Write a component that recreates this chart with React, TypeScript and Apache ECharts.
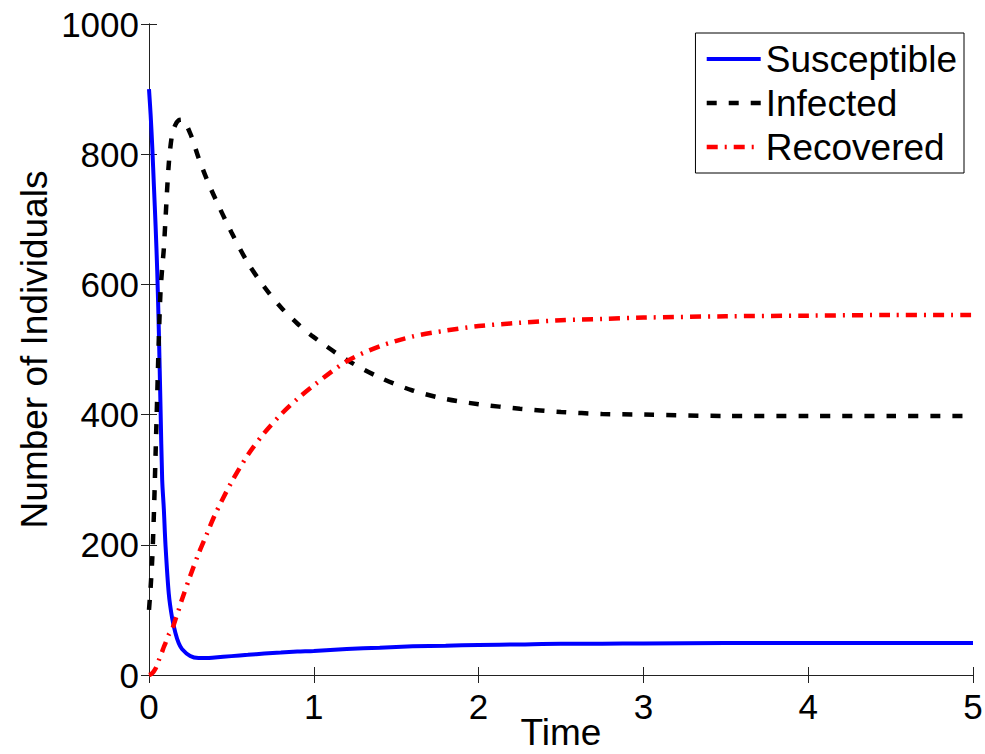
import React, { useEffect, useRef } from "react";
import * as echarts from "echarts";

const times = [0, 0.01, 0.02, 0.03, 0.04, 0.05, 0.06, 0.07, 0.08, 0.09, 0.1, 0.12, 0.14, 0.16, 0.18, 0.2, 0.25, 0.3, 0.35, 0.4, 0.5, 0.6, 0.7, 0.8, 0.9, 1.0, 1.2, 1.4, 1.6, 1.8, 2.0, 2.25, 2.5, 2.75, 3.0, 3.5, 4.0, 4.5, 5.0];
const susceptible = [900, 860, 810, 750, 690, 620, 525, 410, 300, 255, 200, 125, 88, 65, 49, 40, 29, 26, 26, 27, 29, 31, 33, 34.5, 36, 37, 40, 42, 44, 45, 46, 47, 48, 48, 48.5, 49, 49, 49, 49];
const infected = [100, 135, 180, 250, 340, 430, 520, 590, 625, 655, 700, 785, 830, 845, 852, 853, 832, 795, 762, 733, 680, 633, 596, 565, 540, 519, 484, 457, 437, 424, 416, 409, 404, 401, 400, 398, 398, 398, 398];
const recovered = [0, 1, 3, 6, 10, 16, 23, 30, 36, 43, 49, 62, 70, 85, 100, 116, 152, 186, 216, 246, 296, 338, 372, 400, 424, 445, 482, 505, 520, 529, 536, 541, 545, 547, 549, 551, 552, 553, 553];
const seriesNames = ["Susceptible", "Infected", "Recovered"];
const xTicks = { min: 0, max: 5, interval: 1 };
const yTicks = { min: 0, max: 1000, interval: 200 };

const FONT = "Liberation Sans, Arial, Helvetica, sans-serif";

const colors = ["#0000ff", "#000000", "#ff0000"];
const widths = [4, 4.5, 4.5];
const dashes: any[] = ["solid", [10, 12], [11, 7, 2, 7]];

export default function App() {
  const ref = useRef<HTMLDivElement>(null);
  useEffect(() => {
    document.documentElement.style.overflow = "hidden";
    document.body.style.margin = "0";
    document.body.style.overflow = "hidden";
    if (!ref.current) return;
    const chart = echarts.init(ref.current, undefined, { renderer: "svg" });
    const pair = (vals: number[]) => times.map((t, i) => [t, vals[i]]);
    const axisLine = { show: true, lineStyle: { color: "#222", width: 1 } };
    const axisTick = { show: true, inside: true, length: 8, lineStyle: { color: "#222", width: 1 } };
    const label = { fontSize: 35, fontFamily: FONT, color: "#000" };
    const nameStyle = { fontSize: 37, fontFamily: FONT, color: "#000", lineHeight: 30 };
    const allVals = [susceptible, infected, recovered];
    chart.setOption({
      animation: false,
      backgroundColor: "#fff",
      grid: { left: 149, right: 12, top: 24, bottom: 79, containLabel: false, outerBoundsMode: "none" },
      legend: {
        orient: "vertical",
        right: 21,
        top: 33,
        itemWidth: 54,
        itemHeight: 14,
        itemGap: 0,
        padding: [4, 7, 4, 9],
        borderColor: "#000",
        borderWidth: 1,
        backgroundColor: "#fff",
        itemStyle: { opacity: 0 },
        textStyle: { fontSize: 37, fontFamily: FONT, color: "#000", lineHeight: 44 },
        data: seriesNames.map((n, i) => ({
          name: n,
          itemStyle: { opacity: 0 },
          lineStyle: { color: colors[i], width: widths[i], type: dashes[i], cap: "butt" },
        })),
      },
      xAxis: [
        {
          type: "value", ...xTicks, position: "bottom",
          name: "Time", nameLocation: "middle", nameGap: 42, nameMoveOverlap: false,
          nameTextStyle: nameStyle,
          axisLine, axisTick, splitLine: { show: false },
          axisLabel: { ...label, margin: 14 },
        },
        {
          type: "value", ...xTicks, position: "top",
          axisLine, axisTick, splitLine: { show: false }, axisLabel: { show: false },
        },
      ],
      yAxis: [
        {
          type: "value", ...yTicks, position: "left",
          name: "Number of Individuals", nameLocation: "middle", nameGap: 100, nameMoveOverlap: false,
          nameTextStyle: nameStyle,
          axisLine, axisTick, splitLine: { show: false },
          axisLabel: { ...label, margin: 10, formatter: (v: number) => String(v) },
        },
        {
          type: "value", ...yTicks, position: "right",
          axisLine, axisTick, splitLine: { show: false }, axisLabel: { show: false },
        },
      ],
      series: seriesNames.map((n, i) => ({
        name: n, type: "line", data: pair(allVals[i]), showSymbol: false, symbol: "none",
        smooth: 0.3,
        lineStyle: { color: colors[i], width: widths[i], type: dashes[i], cap: "butt" },
        itemStyle: { color: colors[i] },
      })),
    });
    return () => chart.dispose();
  }, []);
  return <div ref={ref} style={{ width: 985, height: 754 }} />;
}
